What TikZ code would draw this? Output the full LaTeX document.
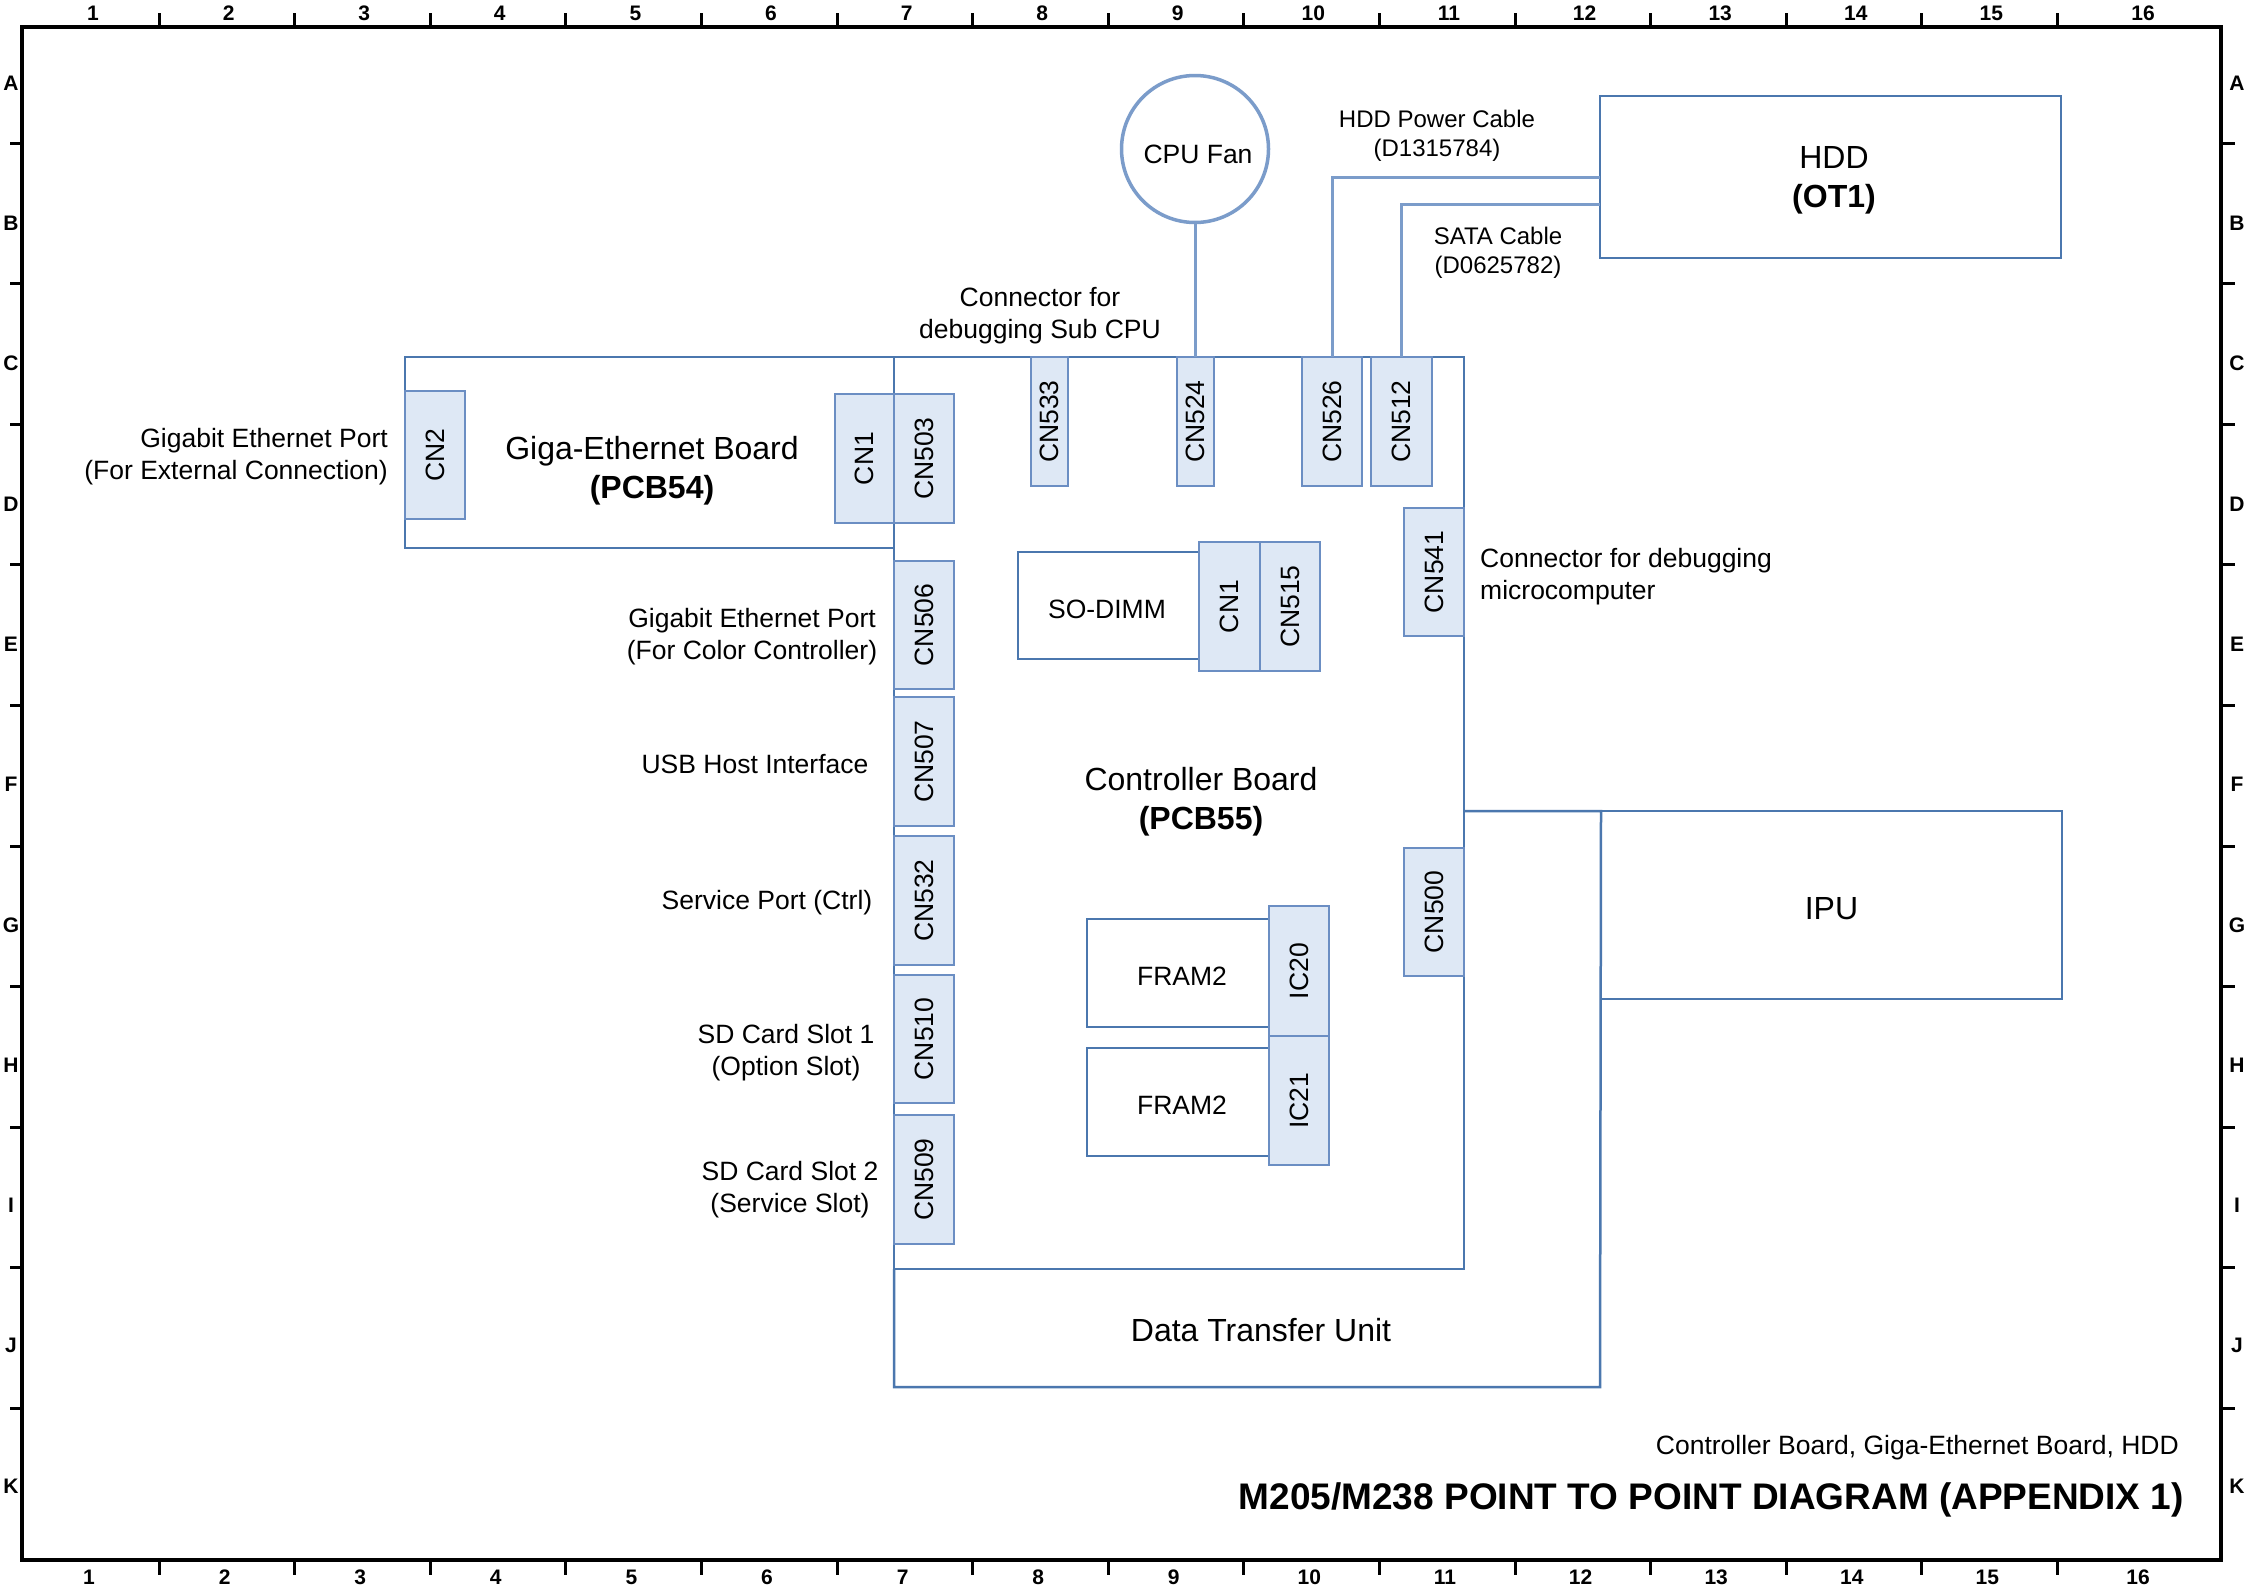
\documentclass[tikz,border=0pt]{standalone}
\usepackage{fontspec}
\setmainfont{Liberation Sans}
\usepackage{graphicx}
\definecolor{boardblue}{HTML}{4B77AE}
\definecolor{cableblue}{HTML}{7B9CCA}
\definecolor{connblue}{HTML}{6B8EC3}
\definecolor{connfill}{HTML}{DEE8F5}
\newcommand\myfs{\fontsize{26.5}{32}\selectfont}
\newcommand\myfb{\fontsize{32}{39}\selectfont}
\newcommand\myfc{\fontsize{24}{29}\selectfont}
\newcommand\myft{\fontsize{37}{44}\selectfont\bfseries}
\newcommand\myfl{\fontsize{21}{24}\selectfont\bfseries}
\begin{document}
\begin{tikzpicture}[x=1pt,y=-1pt,
  board/.style={draw=boardblue, line width=2.5pt, inner sep=0pt, outer sep=0pt},
  conn/.style={draw=connblue, fill=connfill, line width=2pt, inner sep=0pt, outer sep=0pt, font=\myfs},
  lbl/.style={inner sep=0pt, font=\myfs, align=center, yshift=-3pt},
  biglbl/.style={inner sep=0pt, font=\myfb, align=center, yshift=-3pt},
  cablelbl/.style={inner sep=0pt, font=\myfc, align=center, yshift=-2pt},
  cable/.style={draw=cableblue, line width=3pt},
  boardline/.style={draw=boardblue, line width=2.5pt},
  frameline/.style={draw=black, line width=3.5pt},
  tickline/.style={draw=black, line width=3pt},
  edgelbl/.style={inner sep=0pt, font=\myfl}
]
\useasboundingbox (0,0) rectangle (2246,1588);
\fill[white] (0,0) rectangle (2246,1588);

% ---------- frame ----------
\draw[frameline] (22,27) rectangle (2221,1560);
\foreach \k in {0,...,14} {
  \draw[tickline] ({159+135.6*\k},27) -- ++(0,-14);
  \draw[tickline] ({159+135.6*\k},1560) -- ++(0,15);
}
\foreach \k in {0,...,9} {
  \draw[tickline] (22,{143+140.6*\k}) -- ++(-12,0);
  \draw[tickline] (2221,{143+140.6*\k}) -- ++(14,0);
}
\foreach \i in {1,...,15} {
  \node[edgelbl] (tl\i) at ({93+135.6*(\i-1)},13) {\i};
  \node[edgelbl] (bl\i) at ({89+135.6*(\i-1)},1577) {\i};
}
\node[edgelbl] (tl16) at (2143,13) {16};
\node[edgelbl] (bl16) at (2138,1577) {16};
\foreach \l [count=\i] in {A,B,C,D,E,F,G,H,I,J,K} {
  \node[edgelbl] (ll\i) at (11,{83+140.3*(\i-1)}) {\l};
  \node[edgelbl] (rl\i) at (2237,{83+140.3*(\i-1)}) {\l};
}

% ---------- boards ----------
\node[board, minimum width=489pt, minimum height=191pt] (giga) at (649.5,452.5) {};
\node[board, minimum width=570pt, minimum height=912pt] (ctrl) at (1179,813) {};
\node[board, minimum width=461pt, minimum height=162pt] (hdd) at (1830.5,177) {};
\node[board, minimum width=461pt, minimum height=188pt] (ipu) at (1831.5,905) {};
\node[board, minimum width=181pt, minimum height=107pt] (sodimm) at (1108.5,605.5) {};
\node[board, minimum width=182pt, minimum height=108pt] (fram1) at (1178,973) {};
\node[board, minimum width=182pt, minimum height=108pt] (fram2) at (1178,1102) {};
\node[biglbl] (hddlbl) at (1834,177) {HDD\\\textbf{(OT1)}};
\node[biglbl, yshift=-1pt] (ipulbl) at (ipu.center) {IPU};
\node[lbl] (sodimmlbl) at (1107,606) {SO-DIMM};
\node[lbl] (fram1lbl) at (1182,973) {FRAM2};
\node[lbl] (fram2lbl) at (1182,1102) {FRAM2};

% Data Transfer Unit outline
\coordinate (dtubl) at (894,1387);
\coordinate (dtubr) at (1600,1387);
\draw[boardline] (ctrl.south west) -- (dtubl) -- (dtubr) -- (ipu.north west) -- (ctrl.east |- ipu.north west);
\node[biglbl] (dtulbl) at (1261,1327) {Data Transfer Unit};

% ---------- connectors ----------
\node[conn, minimum width=60pt, minimum height=128pt] (cn2) at (435,455) {\rotatebox{90}{CN2}};
\node[conn, minimum width=59pt, minimum height=129pt] (gcn1) at (864.5,458.5) {\rotatebox{90}{CN1}};
\node[conn, minimum width=60pt, minimum height=129pt] (cn503) at (924,458.5) {\rotatebox{90}{CN503}};
\node[conn, minimum width=37pt, minimum height=129pt] (cn533) at (1049.5,421.5) {\rotatebox{90}{CN533}};
\node[conn, minimum width=37pt, minimum height=129pt] (cn524) at (1195,421.5) {\rotatebox{90}{CN524}};
\node[conn, minimum width=60pt, minimum height=129pt] (cn526) at (1332,421.5) {\rotatebox{90}{CN526}};
\node[conn, minimum width=61pt, minimum height=129pt] (cn512) at (1401.5,421.5) {\rotatebox{90}{CN512}};
\node[conn, minimum width=60pt, minimum height=128pt] (cn541) at (1434,572) {\rotatebox{90}{CN541}};
\node[conn, minimum width=61pt, minimum height=129pt] (dcn1) at (1229.5,606.5) {\rotatebox{90}{CN1}};
\node[conn, minimum width=60pt, minimum height=129pt] (cn515) at (1290,606.5) {\rotatebox{90}{CN515}};
\node[conn, minimum width=60pt, minimum height=128pt] (cn500) at (1434,912) {\rotatebox{90}{CN500}};
\node[conn, minimum width=60pt, minimum height=130pt] (ic20) at (1299,971) {\rotatebox{90}{IC20}};
\node[conn, minimum width=60pt, minimum height=129pt] (ic21) at (1299,1100.5) {\rotatebox{90}{IC21}};
\node[conn, minimum width=60pt, minimum height=128pt] (cn506) at (924,625) {\rotatebox{90}{CN506}};
\node[conn, minimum width=60pt, minimum height=129pt] (cn507) at (924,761.5) {\rotatebox{90}{CN507}};
\node[conn, minimum width=60pt, minimum height=129pt] (cn532) at (924,900.5) {\rotatebox{90}{CN532}};
\node[conn, minimum width=60pt, minimum height=128pt] (cn510) at (924,1039) {\rotatebox{90}{CN510}};
\node[conn, minimum width=60pt, minimum height=129pt] (cn509) at (924,1179.5) {\rotatebox{90}{CN509}};

% ---------- fan and cables ----------
\node[circle, draw=cableblue, line width=3.5pt, fill=white, minimum size=147pt, inner sep=0pt, outer sep=0pt] (fan) at (1195,149) {};
\node[lbl] (fanlbl) at (1198,151) {CPU Fan};
\draw[cable] (fan) -- (cn524);
\coordinate (pwrend) at (1600,177);
\coordinate (sataend) at (1600,204);
\draw[cable] (cn526.north) |- (pwrend);
\draw[cable] (cn512.north) |- (sataend);

% ---------- labels ----------
\node[cablelbl] (pwrlbl) at (1437,133.5) {HDD Power Cable\\(D1315784)};
\node[cablelbl] (satalbl) at (1498,250.5) {SATA Cable\\(D0625782)};
\node[lbl] (subcpu) at (1040,312.5) {Connector for\\debugging Sub CPU};
\node[biglbl] (gigalbl) at (652,467.5) {Giga-Ethernet Board\\\textbf{(PCB54)}};
\node[biglbl] (ctrllbl) at (1201,799) {Controller Board\\\textbf{(PCB55)}};
\node[lbl, anchor=west, align=left] (microlbl) at (1480,574) {Connector for debugging\\microcomputer};
\node[lbl, anchor=east, align=right] (extlbl) at (388,454) {Gigabit Ethernet Port\\(For External Connection)};
\node[lbl] (colorlbl) at (752,633.5) {Gigabit Ethernet Port\\(For Color Controller)};
\node[lbl, yshift=2pt] (usblbl) at (755,763) {USB Host Interface};
\node[lbl] (svclbl) at (767,900) {Service Port (Ctrl)};
\node[lbl] (sd1lbl) at (786,1050) {SD Card Slot 1\\(Option Slot)};
\node[lbl] (sd2lbl) at (790,1186.5) {SD Card Slot 2\\(Service Slot)};

% ---------- title ----------
\node[lbl, anchor=east] (subtitle) at (2179,1445) {Controller Board, Giga-Ethernet Board, HDD};
\node[inner sep=0pt, font=\myft, anchor=east] (title) at (2184,1500) {M205/M238 POINT TO POINT DIAGRAM (APPENDIX 1)};
\end{tikzpicture}
\end{document}
